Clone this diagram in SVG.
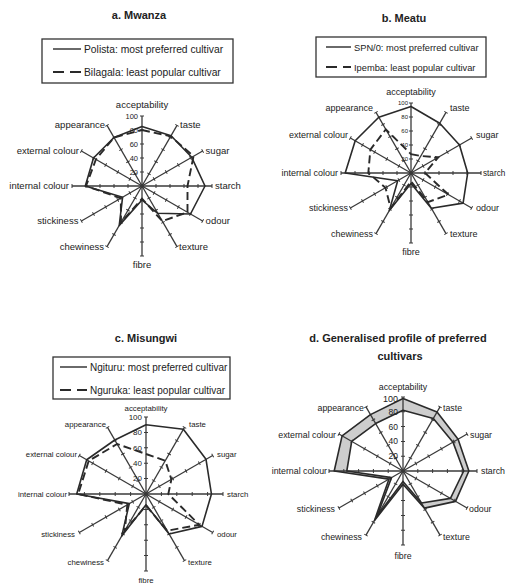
<svg xmlns="http://www.w3.org/2000/svg" width="506" height="585" viewBox="0 0 506 585">
<style>
text{font-family:"Liberation Sans",Arial,sans-serif;fill:#222}
.ttl{font-weight:bold;font-size:11px;text-anchor:middle}
.ax{stroke:#3a3a3a;stroke-width:1.3}
.tk{stroke:#3a3a3a;stroke-width:4}
.so{fill:none;stroke:#2a2a2a;stroke-width:1.6;stroke-linejoin:round}
.da{fill:none;stroke:#2a2a2a;stroke-width:1.9;stroke-dasharray:8 4}
.box{fill:none;stroke:#333;stroke-width:1.3}
.lg{stroke:#2a2a2a;stroke-width:1.4}
.lgd{stroke:#2a2a2a;stroke-width:2.2;stroke-dasharray:11 6}
.e{text-anchor:end}
.m{text-anchor:middle}
.band{fill:#cdcdcd;fill-rule:evenodd}
</style>
<defs>
<g id="axA"><line class="ax" x1="0" y1="0" x2="0" y2="-70"/><line class="tk" x1="0" y1="0" x2="0" y2="-70.5" stroke-dasharray="1 13" stroke-dashoffset="0.5"/></g>
<g id="axC"><line class="ax" x1="0" y1="0" x2="0" y2="-77"/><line class="tk" x1="0" y1="0" x2="0" y2="-77.5" stroke-dasharray="1 14.4" stroke-dashoffset="0.5"/></g>
<g id="axD"><line class="ax" x1="0" y1="0" x2="0" y2="-74"/><line class="tk" x1="0" y1="0" x2="0" y2="-74.5" stroke-dasharray="1 13.8" stroke-dashoffset="0.5"/></g>
</defs>

<g id="panel-a">
<text class="ttl" x="139" y="19">a. Mwanza</text>
<g id="legend-a">
<rect class="box" x="42" y="39" width="191" height="44"/>
<line class="lg" x1="53" y1="49" x2="81" y2="49"/>
<text x="84" y="52.5" font-size="10.3">Polista: most preferred cultivar</text>
<line class="lgd" x1="53" y1="72" x2="81" y2="72"/>
<text x="84" y="75.5" font-size="10.3">Bilagala: least popular cultivar</text>
</g>
<g id="chart-a" transform="translate(142,186)">
<use href="#axA"/><use href="#axA" transform="rotate(30)"/><use href="#axA" transform="rotate(60)"/><use href="#axA" transform="rotate(90)"/><use href="#axA" transform="rotate(120)"/><use href="#axA" transform="rotate(150)"/><use href="#axA" transform="rotate(180)"/><use href="#axA" transform="rotate(210)"/><use href="#axA" transform="rotate(240)"/><use href="#axA" transform="rotate(270)"/><use href="#axA" transform="rotate(300)"/><use href="#axA" transform="rotate(330)"/>
<polygon class="so" points="0,-59.5 29.05,-50.3 49.7,-28.7 63,0 48.5,28 15.75,27.3 0,14 -22.75,39.4 -19.4,11.2 -56.7,0 -48.5,-28 -28,-48.5"/>
<polygon class="da" points="0,-56 28.7,-49.7 51.5,-29.75 45.5,0 45.5,26.25 20.3,35.2 0,12.6 -21,36.4 -21.2,12.25 -56,0 -46.1,-26.6 -28,-48.5"/>
<g font-size="7.5" class="e"><text x="-4" y="-67.3">100</text><text x="-4" y="-53.3">80</text><text x="-4" y="-39.3">60</text><text x="-4" y="-25.3">40</text><text x="-4" y="-11.3">20</text></g>
<g font-size="9.5">
<text class="m" x="0" y="-78">acceptability</text>
<text x="38" y="-58">taste</text>
<text x="63.6" y="-32">sugar</text>
<text x="73" y="3">starch</text>
<text x="63.6" y="38">odour</text>
<text x="37" y="64">texture</text>
<text class="m" x="0" y="82">fibre</text>
<text class="e" x="-38" y="64">chewiness</text>
<text class="e" x="-63.6" y="38">stickiness</text>
<text class="e" x="-73" y="3">internal colour</text>
<text class="e" x="-63" y="-32">external colour</text>
<text class="e" x="-37" y="-58">appearance</text>
</g>
</g>
</g>

<g id="panel-b">
<text class="ttl" x="404" y="22">b. Meatu</text>
<g id="legend-b">
<rect class="box" x="316" y="37" width="170" height="40"/>
<line class="lg" x1="326" y1="47" x2="351" y2="47"/>
<text x="354" y="50.5" font-size="9.3">SPN/0: most preferred cultivar</text>
<line class="lgd" x1="326" y1="67" x2="351" y2="67" stroke-dasharray="9 6"/>
<text x="354" y="70.5" font-size="9.3">Ipemba: least popular cultivar</text>
</g>
<g id="chart-b" transform="translate(411,173)">
<use href="#axA"/><use href="#axA" transform="rotate(30)"/><use href="#axA" transform="rotate(60)"/><use href="#axA" transform="rotate(90)"/><use href="#axA" transform="rotate(120)"/><use href="#axA" transform="rotate(150)"/><use href="#axA" transform="rotate(180)"/><use href="#axA" transform="rotate(210)"/><use href="#axA" transform="rotate(240)"/><use href="#axA" transform="rotate(270)"/><use href="#axA" transform="rotate(300)"/><use href="#axA" transform="rotate(330)"/>
<polygon class="so" points="0,-66.5 28.7,-49.7 48.5,-28 56.7,0 52.1,30.1 20.3,35.2 0,10.5 -21.7,37.6 -13.3,7.7 -65.8,0 -55.8,-32.2 -32.2,-55.8"/>
<polygon class="da" points="0,-18.9 9.8,-17 27.3,-15.75 14,0 37.6,21.7 16.8,29.1 0,8.4 -20.3,35.2 -25.5,14.7 -42.7,0 -40.6,-23.45 -25.2,-43.6"/>
<g font-size="6" class="e"><text x="-3" y="-68">100</text><text x="-3" y="-54">80</text><text x="-3" y="-40">60</text><text x="-3" y="-26">40</text><text x="-3" y="-12">20</text></g>
<g font-size="9">
<text class="m" x="0" y="-78">acceptability</text>
<text x="39" y="-62">taste</text>
<text x="65" y="-35">sugar</text>
<text x="72" y="3" font-size="8.2">starch</text>
<text x="65" y="38">odour</text>
<text x="39" y="64">texture</text>
<text class="m" x="0" y="82">fibre</text>
<text class="e" x="-38" y="64">chewiness</text>
<text class="e" x="-63" y="38">stickiness</text>
<text class="e" x="-73" y="3">internal colour</text>
<text class="e" x="-63" y="-35">external colour</text>
<text class="e" x="-38" y="-62">appearance</text>
</g>
</g>
</g>

<g id="panel-c">
<text class="ttl" x="146" y="342">c. Misungwi</text>
<g id="legend-c">
<rect class="box" x="53" y="357" width="177" height="42"/>
<line class="lg" x1="60" y1="367" x2="87" y2="367"/>
<text x="90" y="370.5" font-size="10">Ngituru: most preferred cultivar</text>
<line class="lgd" x1="60" y1="390" x2="87" y2="390" stroke-dasharray="10 6"/>
<text x="90" y="393.5" font-size="10">Nguruka: least popular cultivar</text>
</g>
<g id="chart-c" transform="translate(146,494)">
<use href="#axC"/><use href="#axC" transform="rotate(30)"/><use href="#axC" transform="rotate(60)"/><use href="#axC" transform="rotate(90)"/><use href="#axC" transform="rotate(120)"/><use href="#axC" transform="rotate(150)"/><use href="#axC" transform="rotate(180)"/><use href="#axC" transform="rotate(210)"/><use href="#axC" transform="rotate(240)"/><use href="#axC" transform="rotate(270)"/><use href="#axC" transform="rotate(300)"/><use href="#axC" transform="rotate(330)"/>
<polygon class="so" points="0,-69.3 37.35,-64.7 60,-34.65 65.45,0 56,32.35 23.1,40 0,10.8 -24.25,42 -16.7,9.6 -69.3,0 -59.3,-34.25 -31.2,-54"/>
<polygon class="da" points="0,-40 19.25,-33.3 25.4,-14.65 22.3,0 53.3,30.8 21.2,36.7 0,11.55 -21.2,36.7 -18.7,10.8 -67.8,0 -57.3,-33.1 -28.9,-50"/>
<g font-size="8" class="e"><text x="-4" y="-74.2">100</text><text x="-4" y="-58.8">80</text><text x="-4" y="-43.4">60</text><text x="-4" y="-28">40</text><text x="-4" y="-12.6">20</text></g>
<g font-size="7.8">
<text class="m" x="0" y="-83">acceptability</text>
<text x="43" y="-67">taste</text>
<text x="71" y="-37">sugar</text>
<text x="81" y="3">starch</text>
<text x="71" y="43">odour</text>
<text x="42" y="71">texture</text>
<text class="m" x="0" y="89">fibre</text>
<text class="e" x="-42" y="71">chewiness</text>
<text class="e" x="-71" y="43">stickiness</text>
<text class="e" x="-79" y="3">internal colour</text>
<text class="e" x="-69" y="-37">external colour</text>
<text class="e" x="-40" y="-67">appearance</text>
</g>
</g>
</g>

<g id="panel-d">
<text class="ttl" x="398" y="342" font-size="12.5">d. Generalised profile of preferred</text>
<text class="ttl" x="400" y="360" font-size="12.5">cultivars</text>
<g id="chart-d" transform="translate(403,471)">
<path class="band" d="M0,-72.5 L34.05,-59 55.1,-31.8 65.9,0 52.55,30.35 21.45,37.15 0,13.3 -28.5,49.4 -14.1,8.15 -68.8,0 -60.9,-35.15 -32.55,-56.4 Z M0,-60.7 L30.35,-52.6 50,-28.85 60.7,0 47.45,27.4 18.5,32.05 0,10.4 -25.9,44.9 -11.5,6.65 -56.2,0 -51.3,-29.6 -27.4,-47.45 Z"/>
<use href="#axD"/><use href="#axD" transform="rotate(30)"/><use href="#axD" transform="rotate(60)"/><use href="#axD" transform="rotate(90)"/><use href="#axD" transform="rotate(120)"/><use href="#axD" transform="rotate(150)"/><use href="#axD" transform="rotate(180)"/><use href="#axD" transform="rotate(210)"/><use href="#axD" transform="rotate(240)"/><use href="#axD" transform="rotate(270)"/><use href="#axD" transform="rotate(300)"/><use href="#axD" transform="rotate(330)"/>
<polygon class="so" points="0,-72.5 34.05,-59 55.1,-31.8 65.9,0 52.55,30.35 21.45,37.15 0,13.3 -28.5,49.4 -14.1,8.15 -68.8,0 -60.9,-35.15 -32.55,-56.4"/>
<polygon class="so" points="0,-60.7 30.35,-52.6 50,-28.85 60.7,0 47.45,27.4 18.5,32.05 0,10.4 -25.9,44.9 -11.5,6.65 -56.2,0 -51.3,-29.6 -27.4,-47.45"/>
<g class="e"><text x="-5" y="-69" font-size="9">100</text><g font-size="8.5"><text x="-5" y="-56.2">80</text><text x="-5" y="-41.4">60</text><text x="-5" y="-26.6">40</text><text x="-5" y="-11.8">20</text></g></g>
<g font-size="8.8">
<text class="m" x="0" y="-81">acceptability</text>
<text x="40" y="-60">taste</text>
<text x="67" y="-33">sugar</text>
<text x="78" y="3">starch</text>
<text x="66" y="41">odour</text>
<text x="40" y="69">texture</text>
<text class="m" x="0" y="88">fibre</text>
<text class="e" x="-41" y="69">chewiness</text>
<text class="e" x="-68" y="41">stickiness</text>
<text class="e" x="-76" y="3">internal colour</text>
<text class="e" x="-67" y="-33">external colour</text>
<text class="e" x="-39" y="-60">appearance</text>
</g>
</g>
</g>
</svg>
